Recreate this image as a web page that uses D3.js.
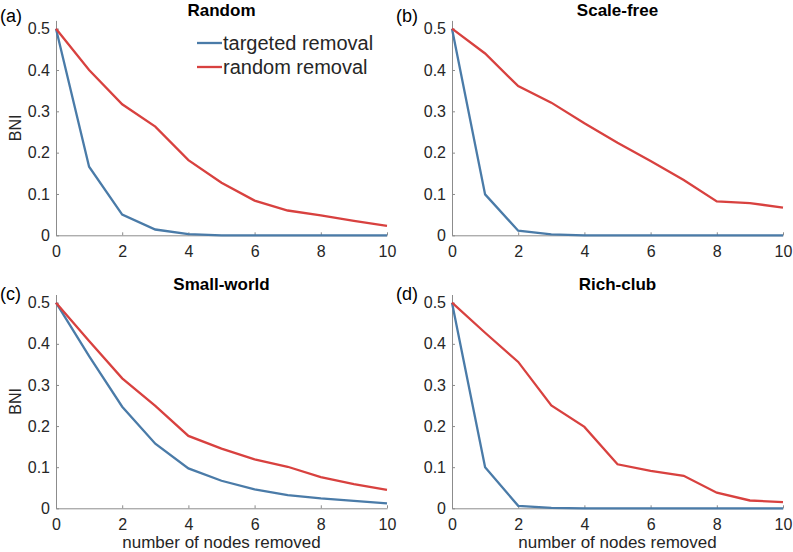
<!DOCTYPE html>
<html>
<head>
<meta charset="utf-8">
<script src="https://cdn.jsdelivr.net/npm/d3@7"></script>
<style>
  body { margin: 0; background: #fff; }
  svg text { font-family: "Liberation Sans", Arial, sans-serif; }
</style>
</head>
<body>
<svg width="793" height="552"></svg>
<script>
// x values: number of nodes removed
var nodesRemoved = [0, 1, 2, 3, 4, 5, 6, 7, 8, 9, 10];

// BNI per network type
var randomTargeted = [0.5, 0.166, 0.05, 0.014, 0.003, 0, 0, 0, 0, 0, 0];
var randomRandom   = [0.5, 0.40, 0.317, 0.263, 0.182, 0.127, 0.084, 0.060, 0.048, 0.035, 0.023];

var scaleFreeTargeted = [0.5, 0.099, 0.011, 0.002, 0, 0, 0, 0, 0, 0, 0];
var scaleFreeRandom   = [0.5, 0.44, 0.361, 0.321, 0.271, 0.224, 0.18, 0.134, 0.082, 0.078, 0.067];

var smallWorldTargeted = [0.5, 0.37, 0.247, 0.157, 0.097, 0.067, 0.046, 0.032, 0.024, 0.018, 0.012];
var smallWorldRandom   = [0.5, 0.407, 0.316, 0.249, 0.176, 0.145, 0.119, 0.101, 0.076, 0.059, 0.045];

var richClubTargeted = [0.5, 0.1, 0.006, 0.001, 0, 0, 0, 0, 0, 0, 0];
var richClubRandom   = [0.5, 0.427, 0.356, 0.25, 0.198, 0.107, 0.091, 0.079, 0.038, 0.019, 0.015];

var panelTitles = ["Random", "Scale-free", "Small-world", "Rich-club"];
var panelLetters = ["(a)", "(b)", "(c)", "(d)"];
var seriesNames = ["targeted removal", "random removal"];
var xTicks = [0, 2, 4, 6, 8, 10];
var yTicks = [0, 0.1, 0.2, 0.3, 0.4, 0.5];

var blue = "#4a7ba8", red = "#d8413f";
var svg = d3.select("svg");

var panels = [
  {targeted: randomTargeted, random: randomRandom, x0: 56, x1: 387, y0: 235.3, y1: 20.4, letterY: 22, ylab: true, xlab: false, legend: true},
  {targeted: scaleFreeTargeted, random: scaleFreeRandom, x0: 452, x1: 783, y0: 235.3, y1: 20.4, letterY: 22, ylab: false, xlab: false},
  {targeted: smallWorldTargeted, random: smallWorldRandom, x0: 56, x1: 387, y0: 508.3, y1: 294.5, letterY: 300, ylab: true, xlab: true},
  {targeted: richClubTargeted, random: richClubRandom, x0: 452, x1: 783, y0: 508.3, y1: 294.5, letterY: 300, ylab: false, xlab: true}
];

panels.forEach(function (p, i) {
  var x = d3.scaleLinear().domain([0, 10]).range([p.x0, p.x1]);
  var y = d3.scaleLinear().domain([0, 0.52]).range([p.y0, p.y1]);
  var g = svg.append("g");

  // axes, MATLAB style: ticks inside, grey lines
  var xa = g.append("g").attr("transform", "translate(0," + p.y0 + ")")
    .call(d3.axisBottom(x).tickValues(xTicks).tickSize(-3).tickSizeOuter(0).tickPadding(8)
      .tickFormat(d3.format("d")));
  var ya = g.append("g").attr("transform", "translate(" + p.x0 + ",0)")
    .call(d3.axisLeft(y).tickValues(yTicks).tickSize(-3).tickSizeOuter(0).tickPadding(6)
      .tickFormat(function (d) { return d === 0 ? "0" : d3.format(".1f")(d); }));
  [xa, ya].forEach(function (a) {
    a.select(".domain").attr("stroke", "#8c8c8c").attr("stroke-width", 1);
    a.selectAll(".tick line").attr("stroke", "#8c8c8c");
    a.selectAll(".tick text").attr("fill", "#262626").style("font-size", "16px");
  });
  xa.selectAll(".tick text").attr("dy", "0.85em");

  var line = d3.line().x(function (d, k) { return x(nodesRemoved[k]); })
    .y(function (d) { return y(d); });

  g.append("path").datum(p.targeted).attr("d", line)
    .attr("fill", "none").attr("stroke", blue).attr("stroke-width", 2.3);
  g.append("path").datum(p.random).attr("d", line)
    .attr("fill", "none").attr("stroke", red).attr("stroke-width", 2.3);

  // title
  g.append("text").attr("x", (p.x0 + p.x1) / 2).attr("y", p.y1 - 4.5)
    .attr("text-anchor", "middle").style("font-size", "17px").style("font-weight", "bold")
    .attr("fill", "#000").text(panelTitles[i]);

  // panel letter
  g.append("text").attr("x", p.x0 - 56).attr("y", p.letterY)
    .style("font-size", "18px").attr("fill", "#000").text(panelLetters[i]);

  if (p.ylab) {
    g.append("text").attr("transform", "translate(21," + ((p.y0 + p.y1) / 2) + ") rotate(-90)")
      .attr("text-anchor", "middle").style("font-size", "16px").attr("fill", "#262626").text("BNI");
  }
  if (p.xlab) {
    g.append("text").attr("x", (p.x0 + p.x1) / 2).attr("y", p.y0 + 40)
      .attr("text-anchor", "middle").style("font-size", "17px").attr("fill", "#262626")
      .text("number of nodes removed");
  }
  if (p.legend) {
    var lg = g.append("g").attr("transform", "translate(197,43)");
    [blue, red].forEach(function (c, k) {
      lg.append("line").attr("x1", 0).attr("x2", 25).attr("y1", k * 24).attr("y2", k * 24)
        .attr("stroke", c).attr("stroke-width", 2.3);
      lg.append("text").attr("x", 26).attr("y", k * 24).attr("dy", "0.35em")
        .style("font-size", "20px").attr("fill", "#262626").text(seriesNames[k]);
    });
  }
});
</script>
</body>
</html>
